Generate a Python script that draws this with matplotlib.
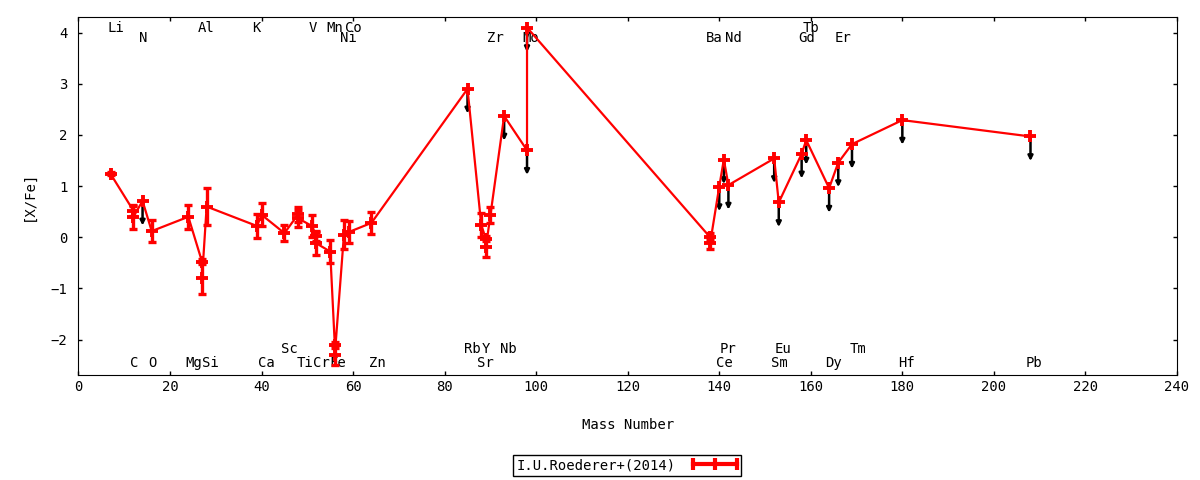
import matplotlib
matplotlib.use("Agg")
import matplotlib.pyplot as plt
from matplotlib.legend_handler import HandlerBase
from matplotlib.lines import Line2D

plt.rcParams['font.family'] = ['DejaVu Sans Mono']
plt.rcParams['font.size'] = 10

# abundances: mass number, [X/Fe], error, upper limit flag
mass = [7, 12, 12, 14, 16, 24, 27, 27, 28, 39, 40, 45, 48, 48, 51, 52, 52,
        55, 56, 56, 58, 59, 64, 85, 88, 89, 89, 90, 93, 98, 98,
        138, 138, 140, 141, 142, 152, 153, 158, 159, 164, 166, 169, 180, 208]
xfe = [1.24, 0.52, 0.40, 0.71, 0.12, 0.40, -0.48, -0.80, 0.60, 0.22, 0.44,
       0.08, 0.45, 0.37, 0.22, 0.02, -0.12, -0.28, -2.10, -2.30, 0.05, 0.10,
       0.28, 2.90, 0.24, -0.03, -0.20, 0.43, 2.37, 1.70, 4.10,
       0.00, -0.12, 0.99, 1.52, 1.02, 1.54, 0.68, 1.63, 1.90, 0.96, 1.46,
       1.82, 2.29, 1.97]
err = [0.03, 0.10, 0.24, 0.0, 0.22, 0.24, 0.05, 0.31, 0.37, 0.24, 0.22,
       0.16, 0.15, 0.16, 0.22, 0.10, 0.22, 0.22, 0.06, 0.19, 0.28, 0.22,
       0.21, 0.0, 0.24, 0.05, 0.18, 0.16, 0.0, 0.0, 0.0,
       0.08, 0.10, 0.0, 0.0, 0.0, 0.0, 0.0, 0.0, 0.0, 0.0, 0.0,
       0.0, 0.0, 0.0]
uplim = [False, False, False, True, False, False, False, False, False, False,
         False, False, False, False, False, False, False, False, False, False,
         False, False, False, True, False, False, False, False, True, True,
         True, False, False, True, True, True, True, True, True, True, True,
         True, True, True, True]

# element name labels: name, x position, row (0/1 top, 2/3 bottom)
lab_name = ['Li', 'N', 'Al', 'K', 'V', 'Mn', 'Co', 'Ni', 'Zr', 'Mo', 'Ba',
            'Nd', 'Gd', 'Tb', 'Er',
            'C', 'O', 'Mg', 'Si', 'Ca', 'Sc', 'Ti', 'Cr', 'Fe', 'Zn', 'Rb',
            'Y', 'Nb', 'Sr', 'Pr', 'Ce', 'Eu', 'Sm', 'Dy', 'Tm', 'Hf', 'Pb']
lab_x = [8.2, 14.2, 27.8, 38.9, 51.2, 56.1, 60.0, 59.0, 91.0, 98.8, 139.0,
         143.0, 159.0, 160.0, 167.0,
         12.2, 16.2, 25.2, 28.8, 41.1, 46.0, 49.5, 53.1, 56.7, 65.2, 86.0,
         89.1, 94.0, 88.9, 142.0, 141.1, 153.9, 153.1, 165.0, 170.3, 180.8,
         208.7]
lab_row = [0, 1, 0, 0, 0, 0, 0, 1, 1, 1, 1, 1, 1, 0, 1,
           3, 3, 3, 3, 3, 2, 3, 3, 3, 3, 2, 2, 2, 3, 2, 3, 2, 3, 3, 2, 3, 3]
row_y = [4.10, 3.90, -2.18, -2.45]


class GnuErrHandler(HandlerBase):
    def create_artists(self, legend, orig_handle, xdescent, ydescent,
                       width, height, fontsize, trans):
        y = height / 2 - ydescent
        x0, x1 = -xdescent, width - xdescent
        line = Line2D([x0, x1], [y, y], color='red', lw=3)
        caps = Line2D([x0, (x0 + x1) / 2, x1], [y, y, y], ls='none',
                      marker='|', ms=9, mew=3, color='red')
        for a in (line, caps):
            a.set_transform(trans)
        return [line, caps]


fig = plt.figure(figsize=(12, 4.8), dpi=100)
ax = fig.add_axes([0.0654, 0.219, 0.9154, 0.745])

# upper limit arrows
for x, y, u in zip(mass, xfe, uplim):
    if u:
        ax.annotate('', xy=(x, y - 0.48), xytext=(x, y),
                    arrowprops=dict(arrowstyle='-|>', color='black', lw=1.8,
                                    mutation_scale=7, shrinkA=0, shrinkB=0),
                    zorder=1)

ax.plot(mass, xfe, color='red', lw=1.6, zorder=2)
meas_x = [m for m, u in zip(mass, uplim) if not u]
meas_y = [v for v, u in zip(xfe, uplim) if not u]
meas_e = [e for e, u in zip(err, uplim) if not u]
ax.errorbar(meas_x, meas_y, yerr=meas_e, fmt='none', ecolor='red',
            elinewidth=2.4, capsize=3, capthick=2.4, zorder=3)
ax.plot(mass, xfe, ls='none', marker='+', ms=8.5, mew=2.8, color='red', zorder=4)

for name, x, r in zip(lab_name, lab_x, lab_row):
    ax.text(x, row_y[r], name, ha='center', va='center', zorder=0)

ax.set_xlim(0, 240)
ax.set_ylim(-2.69, 4.30)
ax.set_xticks(range(0, 241, 20))
ax.set_yticks(range(-2, 5))
ax.tick_params(direction='in', top=True, right=True, length=3.2, width=1)
ax.tick_params(axis='x', pad=4)
ax.tick_params(axis='y', pad=8)
ax.set_xlabel('Mass Number')
ax.set_ylabel('[X/Fe]')
ax.xaxis.set_label_coords(0.5, -0.12)
ax.yaxis.set_label_coords(-0.0385, 0.5)

handle = Line2D([], [], color='red')
leg = fig.legend([handle], ['I.U.Roederer+(2014)'], loc='center',
                 bbox_to_anchor=(0.5225, 0.031), markerfirst=False,
                 handler_map={Line2D: GnuErrHandler()}, handlelength=3.2,
                 fancybox=False, framealpha=1, edgecolor='black',
                 borderpad=0.25, handletextpad=1.2, borderaxespad=0)
leg.get_frame().set_linewidth(1)

fig.savefig('out.png')
